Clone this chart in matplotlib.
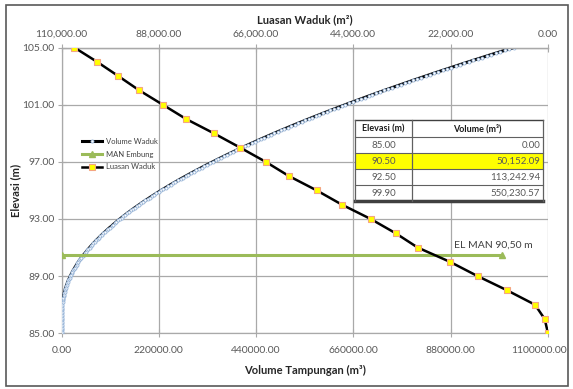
import numpy as np
import matplotlib
matplotlib.use("Agg")
import matplotlib.pyplot as plt
from matplotlib.patches import Rectangle
from matplotlib.ticker import FuncFormatter, FixedLocator
from matplotlib.transforms import ScaledTranslation

plt.rcParams['font.family'] = ['Lato', 'DejaVu Sans']

# --- data ---
# storage volume (m3) every 0.1 m from 85.0 to 105.0
elev_vol = np.round(np.arange(85.0, 105.001, 0.1), 1)
volume = [
    0, 3, 12, 27, 48, 75, 108, 147, 192, 243,
    300, 370, 462, 574, 708, 862, 1038, 1234, 1452, 1690,
    1950, 2250, 2612, 3034, 3518, 4062, 4668, 5334, 6062, 6850,
    7700, 8613, 9592, 10637, 11748, 12925, 14168, 15477, 16852, 18293,
    19800, 21371, 23004, 24699, 26456, 28275, 30156, 32099, 34104, 36171,
    38300, 40495, 42760, 45095, 47500, 50152.09, 52520, 55135, 57820, 60575,
    63400, 66288, 69232, 72232, 75288, 78400, 81568, 84792, 88072, 91408,
    94800, 98250, 101760, 105330, 108960, 113242.94, 116400, 120210, 124080, 128010,
    132000, 136053, 140172, 144357, 148608, 152925, 157308, 161757, 166272, 170853,
    175500, 180209, 184974, 189797, 194676, 199613, 204606, 209657, 214764, 219929,
    225150, 230431, 235772, 241175, 246638, 252163, 257748, 263395, 269102, 274871,
    280700, 286586, 292524, 298514, 304556, 310650, 316796, 322994, 329244, 335546,
    341900, 348309, 354774, 361297, 367876, 374513, 381206, 387957, 394764, 401629,
    408550, 415529, 422566, 429661, 436814, 444025, 451294, 458621, 466006, 473449,
    480950, 488506, 496114, 503774, 511486, 519250, 527066, 534934, 542854, 550230.57,
    558850, 566926, 575052, 583230, 591458, 599738, 608068, 616450, 624882, 633366,
    641900, 650486, 659122, 667810, 676548, 685338, 694178, 703070, 712012, 721006,
    730050, 739143, 748282, 757467, 766698, 775975, 785298, 794667, 804082, 813543,
    823050, 832603, 842202, 851847, 861538, 871275, 881058, 890887, 900762, 910683,
    920650, 930665, 940728, 950841, 961002, 971213, 981472, 991781, 1002138, 1012545,
    1023000,
]

# reservoir surface area (m2) every 1 m
elev_area = [85, 86, 87, 88, 89, 90, 91, 92, 93, 94, 95,
             96, 97, 98, 99, 100, 101, 102, 103, 104, 105]
area = [0, 750, 2940, 9200, 15900, 22160, 29460, 34440, 40090, 46580, 52300,
        58560, 63830, 69640, 75590, 81850, 87120, 92410, 97150, 101970, 107100]

# MAN embung level line
man_elev = [90.5, 90.5]
man_vol = [0, 995000]
man_label = 'EL MAN 90,50 m'
man_label_x = 888000

# summary table
tbl_elev = [85.00, 90.50, 92.50, 99.90]
tbl_vol = [0.00, 50152.09, 113242.94, 550230.57]
tbl_highlight = 1

W, H = 573, 389
fig = plt.figure(figsize=(W / 100, H / 100), dpi=100)
fig.patch.set_facecolor('white')

ax = fig.add_axes([61.5 / W, 1 - 333.3 / H, (548 - 61.5) / W, (333.3 - 47.5) / H])
ax2 = ax.twiny()

grid_c = '#a9a9a9'
txt_c = '#595959'

# volume curve
l_vol, = ax.plot(volume, elev_vol, color='#000000', lw=2.2, marker='o', ms=2.2,
                 mfc='white', mec='#95b3d7', mew=0.6, zorder=3, label='Volume Waduk')
# MAN line
l_man, = ax.plot(man_vol, man_elev, color='#9bbb59', lw=2.2, marker='^', ms=5,
                 mfc='#9bbb59', mec='#9bbb59', zorder=3, label='MAN Embung')
ax.text(man_label_x, man_elev[0] + 0.35, man_label,
        fontsize=7.5, color='#404040', ha='left', va='bottom')

ax.set_xlim(0, 1100000)
ax.set_ylim(85, 105)
ax.xaxis.set_major_locator(FixedLocator(np.arange(0, 1100001, 220000)))
ax.yaxis.set_major_locator(FixedLocator(np.arange(85, 105.1, 4)))
ax.xaxis.set_major_formatter(FuncFormatter(lambda v, p: f'{v:.2f}'))
ax.yaxis.set_major_formatter(FuncFormatter(lambda v, p: f'{v:.2f}'))
ax.grid(True, color=grid_c, lw=0.9)
ax.set_axisbelow(True)
ax.tick_params(axis='both', direction='inout', length=6, color=grid_c,
               labelsize=7.5, labelcolor=txt_c)
ax.tick_params(axis='x', pad=6)
ax.tick_params(axis='y', pad=2)
ax.spines['right'].set_visible(False)
for s in ['left', 'bottom', 'top']:
    ax.spines[s].set_color(grid_c)
    ax.spines[s].set_linewidth(0.9)
ax.set_xlabel('Volume Tampungan (m³)', fontsize=8, fontweight='bold', color='#262626', labelpad=7)
ax.set_ylabel('Elevasi (m)', fontsize=8, fontweight='bold', color='#262626', labelpad=1)

# area curve on the top axis (reversed)
l_area, = ax2.plot(area, elev_area, color='black', lw=1.8, marker='s', ms=4.5,
                   mfc='#ffff00', mec='#f4a582', mew=0.8, zorder=4, label='Luasan Waduk')
ax2.set_xlim(110000, 0)
ax2.xaxis.set_major_locator(FixedLocator(np.arange(0, 110001, 22000)))
ax2.xaxis.set_major_formatter(FuncFormatter(lambda v, p: f'{v:,.2f}'))
ax2.tick_params(axis='x', direction='inout', length=6, color=grid_c,
                labelsize=7.5, labelcolor=txt_c, pad=3)
for s in ['left', 'right', 'bottom']:
    ax2.spines[s].set_visible(False)
ax2.spines['top'].set_color(grid_c)
ax2.spines['top'].set_linewidth(0.9)
ax2.set_xlabel('Luasan Waduk (m²)', fontsize=8, fontweight='bold', color='#262626', labelpad=5)

leg = ax2.legend([l_vol, l_man, l_area], ['Volume Waduk', 'MAN Embung', 'Luasan Waduk'],
                 loc='upper left', bbox_to_anchor=(78 / W, 1 - 134 / H),
                 bbox_transform=fig.transFigure, frameon=False, fontsize=5.5,
                 handlelength=2.7, handletextpad=0.4, labelspacing=0.75, borderpad=0)
for t in leg.get_texts():
    t.set_color('#404040')

# keep the last bottom tick label inside the frame
fig.canvas.draw()
last = ax.get_xticklabels()[-1]
last.set_transform(last.get_transform() + ScaledTranslation(-0.09, 0, fig.dpi_scale_trans))

# overlay in pixel coordinates for the table and outer frame
ov = fig.add_axes([0, 0, 1, 1], zorder=10)
ov.set_xlim(0, W)
ov.set_ylim(H, 0)
ov.axis('off')
ov.patch.set_alpha(0)

ov.add_patch(Rectangle((5.5, 4.5), 562, 381, fill=False, ec='#595959', lw=1.2))

tx0, tx1, tx2 = 355, 412, 543
rows = [120, 137, 153, 169, 185, 201]
ov.add_patch(Rectangle((tx0, rows[0]), tx2 - tx0, rows[-1] - rows[0], fc='white', ec='none'))
ov.add_patch(Rectangle((tx0, rows[1 + tbl_highlight]), tx2 - tx0,
                       rows[2 + tbl_highlight] - rows[1 + tbl_highlight], fc='#ffff00', ec='none'))
for y in rows[1:-1]:
    ov.plot([tx0, tx2], [y, y], color='#606060', lw=0.8)
ov.plot([tx0, tx2], [rows[0], rows[0]], color='#404040', lw=1.0)
ov.plot([tx0, tx2], [rows[-1], rows[-1]], color='#404040', lw=2.5)
for x in (tx0, tx1, tx2):
    ov.plot([x, x], [rows[0], rows[-1]], color='#606060', lw=0.9)

ov.text((tx0 + tx1) / 2, (rows[0] + rows[1]) / 2, 'Elevasi (m)', fontsize=6.5,
        fontweight='bold', ha='center', va='center', color='#1a1a1a')
ov.text((tx1 + tx2) / 2, (rows[0] + rows[1]) / 2, 'Volume (m³)', fontsize=6.5,
        fontweight='bold', ha='center', va='center', color='#1a1a1a')
for i, (e, v) in enumerate(zip(tbl_elev, tbl_vol)):
    yc = (rows[i + 1] + rows[i + 2]) / 2
    ov.text((tx0 + tx1) / 2, yc, f'{e:.2f}', fontsize=7, ha='center', va='center', color=txt_c)
    ov.text(tx2 - 3, yc, f'{v:,.2f}', fontsize=7, ha='right', va='center', color=txt_c)

fig.savefig('out.png', dpi=100)
